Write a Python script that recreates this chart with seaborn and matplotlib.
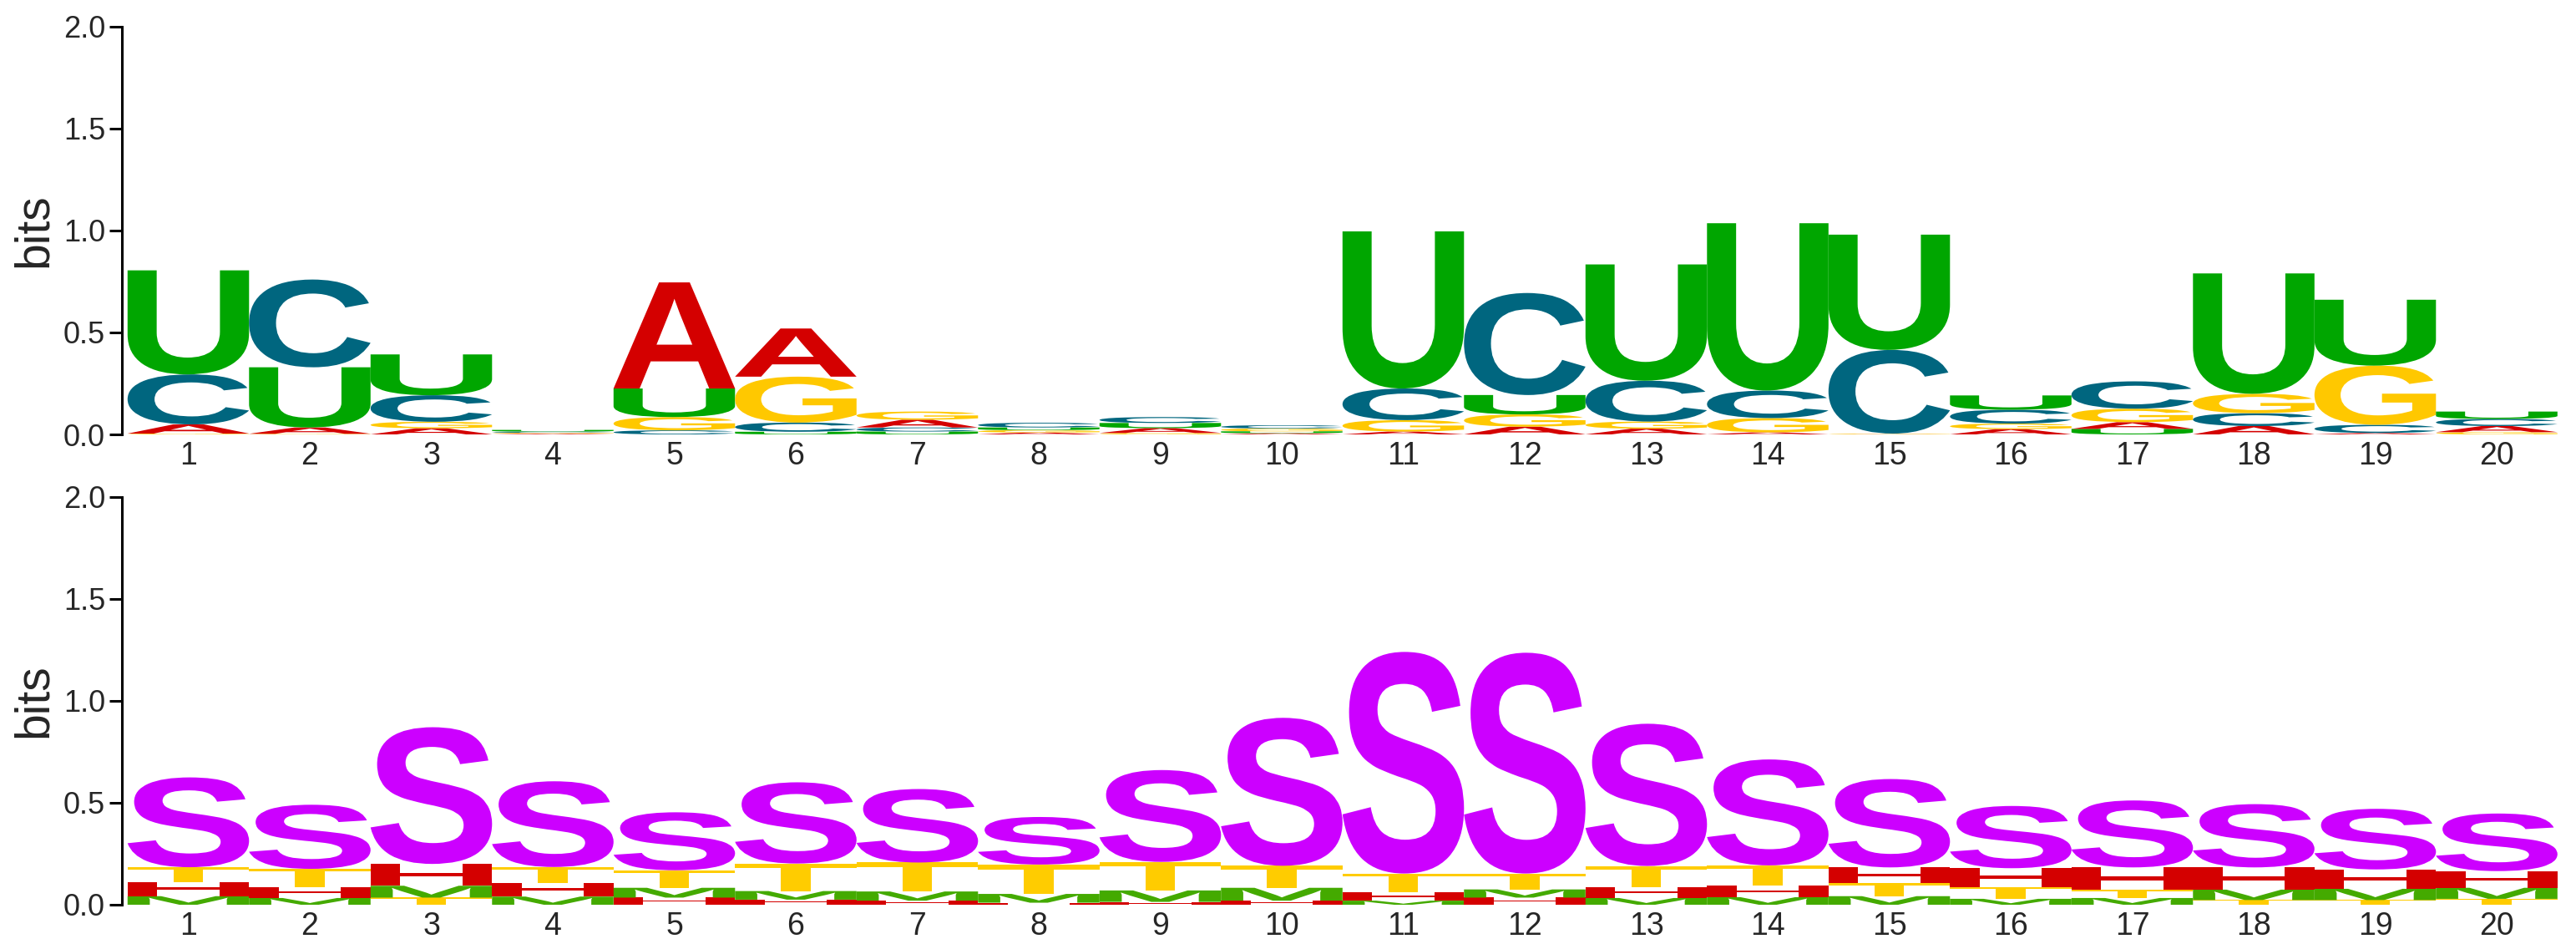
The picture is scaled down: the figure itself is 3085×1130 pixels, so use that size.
import numpy as np
import pandas as pd
import matplotlib
matplotlib.use("Agg")
import matplotlib.pyplot as plt
import seaborn as sns
from matplotlib.textpath import TextPath
from matplotlib.patches import PathPatch
from matplotlib.transforms import Affine2D
from matplotlib.font_manager import FontProperties

# positions along the sequence
positions = list(range(1, 21))

# top logo: nucleotide heights (bits) per position
rna_A = [0.045, 0.031, 0.030, 0.004, 0.520, 0.236, 0.038, 0.009, 0.024, 0.006,
         0.014, 0.038, 0.028, 0.010, 0.001, 0.026, 0.033, 0.041, 0.007, 0.030]
rna_C = [0.245, 0.430, 0.130, 0.006, 0.020, 0.045, 0.020, 0.023, 0.029, 0.016,
         0.155, 0.500, 0.200, 0.135, 0.410, 0.068, 0.134, 0.063, 0.040, 0.035]
rna_G = [0.004, 0.003, 0.032, 0.004, 0.065, 0.225, 0.040, 0.012, 0.007, 0.014,
         0.056, 0.060, 0.035, 0.070, 0.003, 0.027, 0.066, 0.095, 0.290, 0.011]
rna_U = [0.510, 0.295, 0.200, 0.008, 0.140, 0.013, 0.014, 0.013, 0.025, 0.009,
         0.770, 0.095, 0.570, 0.820, 0.565, 0.070, 0.027, 0.590, 0.323, 0.036]

# bottom logo: structure letter heights (bits) per position
struct_H = [0.070, 0.055, 0.107, 0.068, 0.035, 0.025, 0.020, 0.010, 0.014, 0.020,
            0.040, 0.035, 0.054, 0.057, 0.078, 0.091, 0.109, 0.109, 0.095, 0.082]
struct_M = [0.042, 0.033, 0.058, 0.040, 0.048, 0.042, 0.045, 0.043, 0.056, 0.063,
            0.020, 0.040, 0.033, 0.037, 0.042, 0.029, 0.033, 0.051, 0.055, 0.054]
struct_S = [0.440, 0.314, 0.670, 0.420, 0.284, 0.398, 0.360, 0.233, 0.450, 0.725,
            1.086, 1.082, 0.697, 0.519, 0.433, 0.305, 0.328, 0.310, 0.297, 0.282]
struct_T = [0.072, 0.088, 0.035, 0.077, 0.086, 0.135, 0.142, 0.144, 0.140, 0.108,
            0.093, 0.078, 0.103, 0.099, 0.063, 0.059, 0.041, 0.023, 0.023, 0.029]

rna_colors = {"A": "#D40000", "C": "#00667F", "G": "#FFC800", "U": "#00A600"}
struct_colors = {"H": "#D40000", "M": "#44AA00", "S": "#CC00FF", "T": "#FFCC00"}

fp = FontProperties(family="Liberation Sans", weight="bold")


def long_table(heights):
    rows = []
    for letter, vals in heights.items():
        for p, v in zip(positions, vals):
            rows.append({"pos": p, "letter": letter, "height": v})
    df = pd.DataFrame(rows)
    # stack smallest at bottom, largest on top
    df = df.sort_values(["pos", "height"]).reset_index(drop=True)
    df["base"] = df.groupby("pos")["height"].cumsum() - df["height"]
    return df


def draw_glyph(ax, ch, x, y0, h, color):
    tp = TextPath((0, 0), ch, size=1, prop=fp)
    ext = tp.get_extents()
    tr = (Affine2D().translate(-ext.x0, -ext.y0)
          .scale(1.0 / ext.width, h / ext.height)
          .translate(x - 0.5, y0))
    ax.add_patch(PathPatch(tr.transform_path(tp), facecolor=color,
                           edgecolor="none", lw=0))


def draw_logo(ax, df, colors):
    for _, r in df.iterrows():
        if r["height"] > 0:
            draw_glyph(ax, r["letter"], r["pos"], r["base"], r["height"], colors[r["letter"]])
    ax.set_xlim(0.45, 20.52)
    ax.set_ylim(0, 2)
    ax.set_xticks(positions)
    ax.set_xticklabels([str(p) for p in positions])
    ax.set_yticks([0, 0.5, 1.0, 1.5, 2.0])
    ax.set_yticklabels(["0.0", "0.5", "1.0", "1.5", "2.0"])
    ax.set_ylabel("bits", fontsize=41, labelpad=6)
    ax.tick_params(axis="y", labelsize=26, length=11, width=2.2, pad=3, color="black")
    ax.tick_params(axis="x", labelsize=27, length=0, pad=6)
    sns.despine(ax=ax, bottom=True)
    ax.spines["left"].set_linewidth(2.2)
    ax.spines["left"].set_color("black")
    ax.grid(False)


sns.set_theme(style="ticks")
plt.rcParams["font.family"] = ["Liberation Sans", "DejaVu Sans"]

fig = plt.figure(figsize=(30.85, 11.3), dpi=100)
W, H = 3085.0, 1130.0
left = 145.5 / W
width = (3065.7 - 145.5) / W
ax_top = fig.add_axes([left, (H - 520) / H, width, 488.5 / H])
ax_bot = fig.add_axes([left, (H - 1083) / H, width, 488.5 / H])

draw_logo(ax_top, long_table({"A": rna_A, "C": rna_C, "G": rna_G, "U": rna_U}), rna_colors)
draw_logo(ax_bot, long_table({"H": struct_H, "M": struct_M, "S": struct_S, "T": struct_T}), struct_colors)

fig.savefig("out.png", dpi=100, facecolor="white")
